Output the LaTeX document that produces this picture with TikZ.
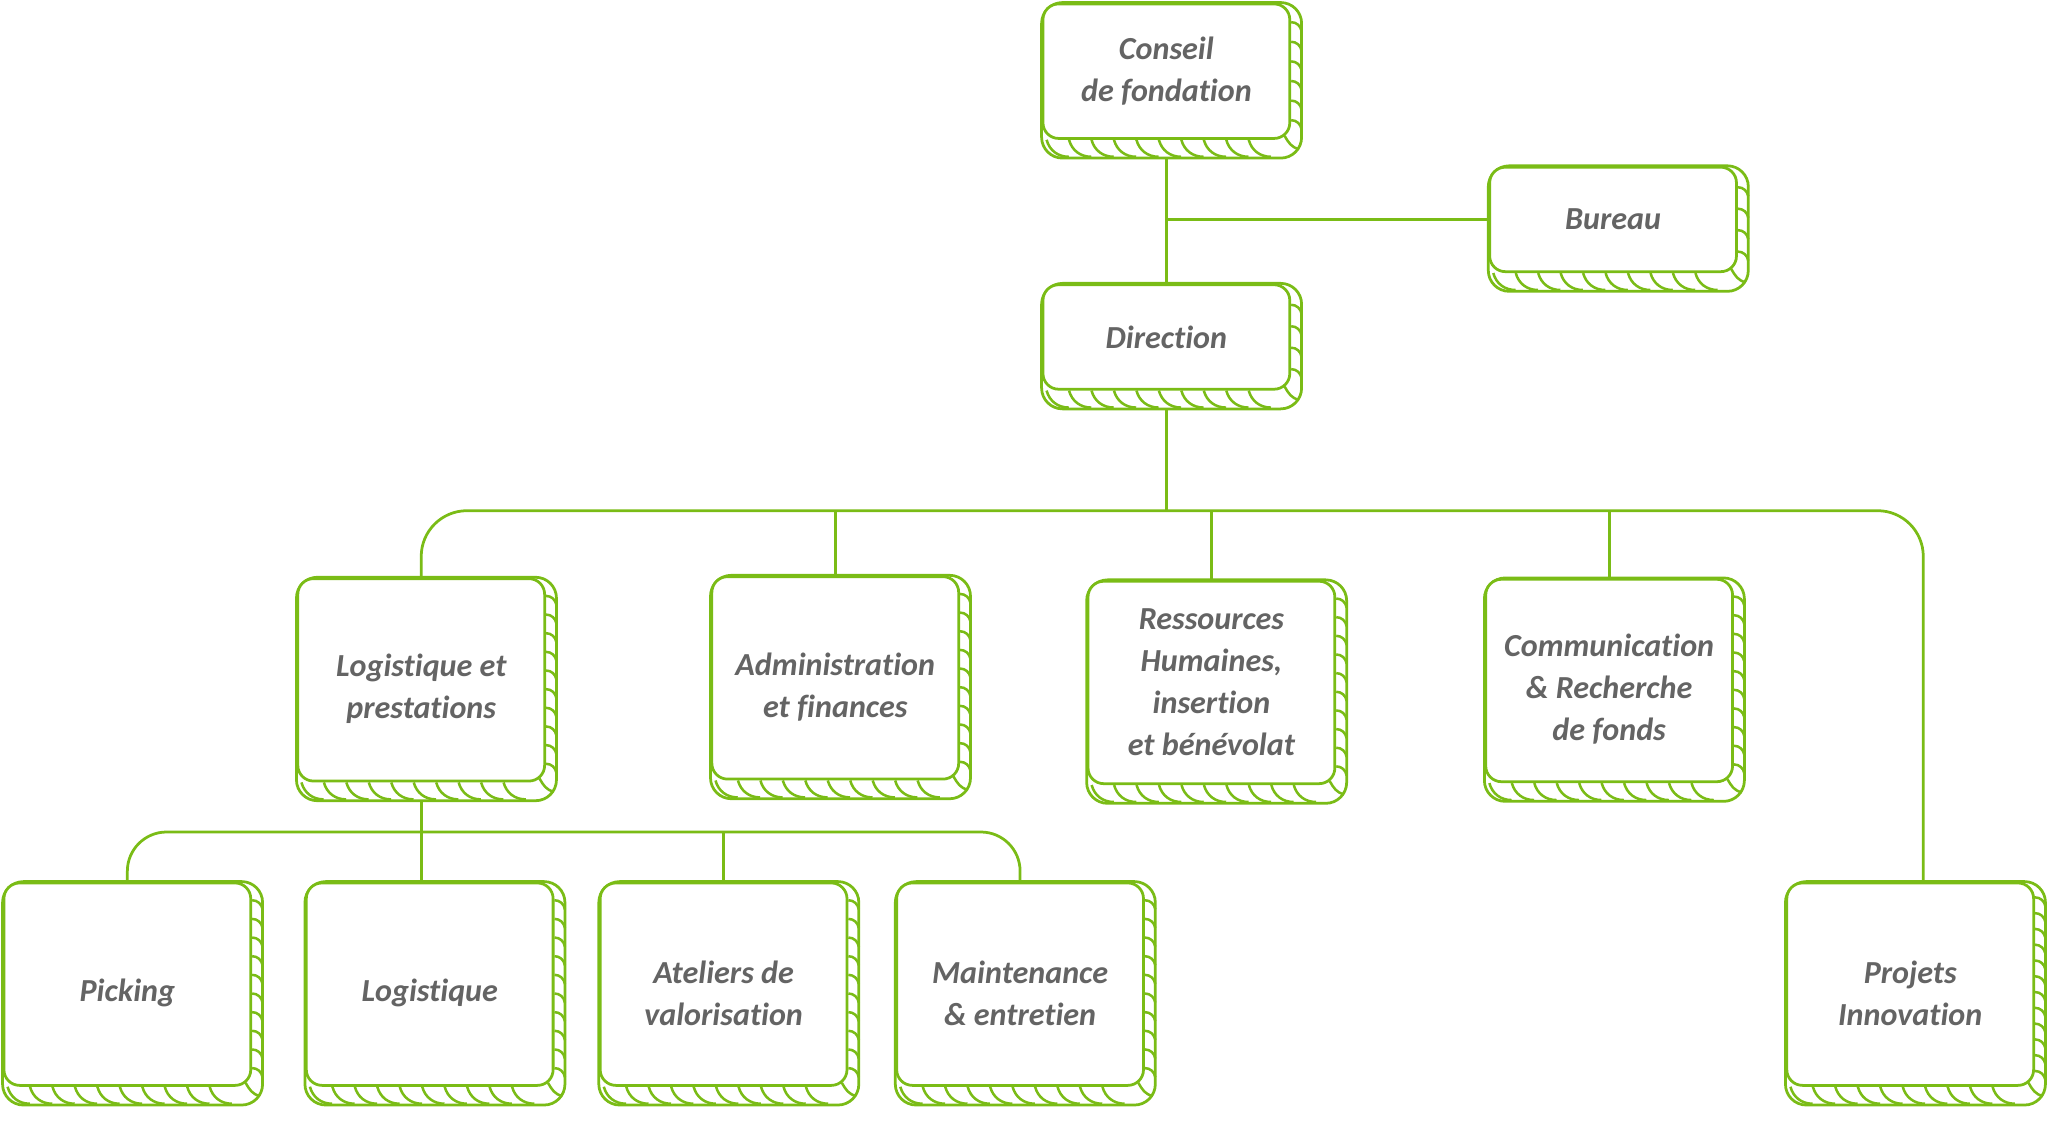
\documentclass[tikz,border=0pt]{standalone}
\usepackage{fontspec}
\setmainfont{Carlito}[Ligatures=NoCommon]
\usetikzlibrary{calc,backgrounds}
\definecolor{leaf}{RGB}{122,188,22}
\definecolor{ink}{RGB}{100,100,100}
\newcommand\boxlift{\rule{0pt}{0.62cm}}

\begin{document}
\begin{tikzpicture}[x=0.02cm,y=-0.02cm,
  unit/.style={draw=leaf,line width=1.2pt,fill=white,rounded corners=0.24cm,
    minimum width=3.78cm,minimum height=3.1cm,inner sep=2pt,align=center,
    text=ink,font=\bfseries\itshape\fontsize{14}{18.3}\selectfont},
  flat/.style={unit,minimum height=1.6cm},
  link/.style={draw=leaf,line width=1.2pt},
  hatch/.style={draw=leaf,line width=1.1pt}]
\useasboundingbox (0,0) rectangle (1568,862);

\node[unit,minimum height=2.06cm] (conseil) at (893,54.5) {Conseil\\de fondation};
\node[flat] (bureau) at (1235,168) {Bureau};
\node[flat] (direction) at (893,258) {Direction};

\node[unit] (logpres) at (322.5,520.5) {\boxlift Logistique et\\prestations};
\node[unit] (admin) at (639.5,519) {\boxlift Administration\\et finances};
\node[unit] (rh) at (927.5,522.5) {Ressources\\Humaines,\\insertion\\et bénévolat};
\node[unit] (comm) at (1232,521) {\boxlift Communication\\\& Recherche\\de fonds};

\node[unit] (picking) at (97.5,753.5) {\boxlift Picking};
\node[unit] (logistique) at (329,753.5) {\boxlift Logistique};
\node[unit] (ateliers) at (554,753.5) {\boxlift Ateliers de\\valorisation};
\node[unit] (maint) at (781,753.5) {\boxlift Maintenance\\\& entretien};
\node[unit] (projets) at (1462.5,753.5) {\boxlift Projets\\Innovation};

\coordinate (bus1) at (893,391);
\coordinate (bus2) at (323,637);

\begin{scope}[on background layer]
\draw[link] (conseil.south) -- (direction.north);
\draw[link] (conseil.south |- bureau.west) -- (bureau.west);
\draw[link] (direction.south) -- (bus1);
\draw[link,rounded corners=0.7cm] (logpres.north) |- (bus1) -| ([xshift=0.2cm]projets.north);
\draw[link] (admin.north) -- (admin.north |- bus1);
\draw[link] (rh.north) -- (rh.north |- bus1);
\draw[link] (comm.north) -- (comm.north |- bus1);

\draw[link] (logpres.south) -- (logpres.south |- logistique.north);
\draw[link,rounded corners=0.6cm] (picking.north) |- (bus2) -| (maint.north);
\draw[link] (ateliers.north) -- (ateliers.north |- bus2);

\foreach \n/\k in {conseil/6,bureau/4,direction/4,logpres/10,admin/10,rh/10,comm/10,
    picking/10,logistique/10,ateliers/10,maint/10,projets/12} {
  \draw[link,fill=white,rounded corners=0.32cm] (\n.north west) rectangle ($(\n.south east)+(8,14)$);
  \foreach \t in {0.02,0.11,...,0.84}
    \draw[hatch] ($(\n.south west)!\t!(\n.south east)$) to[out=-75,in=180] ++(17,13);
  \draw[hatch] ($(\n.south east)+(-5,-3)$) to[out=-60,in=170] ++(11,10);
  \foreach \j in {1,...,\k}
    \draw[hatch] ($(\n.north east)!{\j/(\k+1)}!(\n.south east)$) to[out=0,in=100] ++(8,7);
}
\end{scope}
\end{tikzpicture}
\end{document}
